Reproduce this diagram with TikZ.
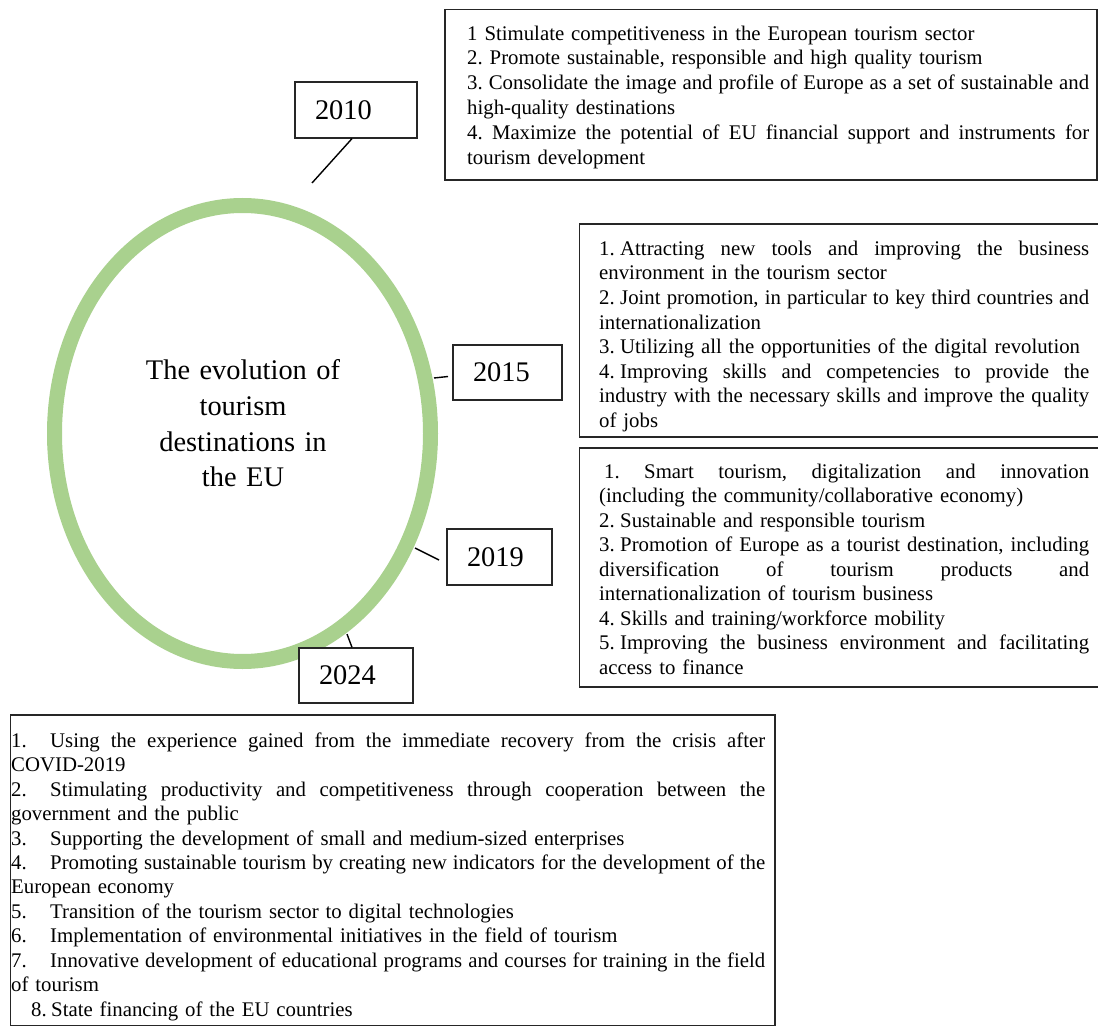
\documentclass[tikz,border=0pt]{standalone}
\usepackage{fontspec}
\setmainfont{Liberation Serif}
\usetikzlibrary{shapes.geometric}
\definecolor{ringgreen}{HTML}{A9D18E}
\newcommand\JL[1]{\hbox to\linewidth{\spaceskip=.25em plus .8em minus .1em #1}}
\newcommand\LL[1]{\hbox{#1}}
\newcommand\FR{\rule{0pt}{18pt}}
\frenchspacing
\begin{document}
\begin{tikzpicture}[x=1pt,y=-1pt,
  listtext/.style={anchor=north west, inner sep=0pt},
  framebox/.style={draw=black!85, line width=1.3pt},
  yearbox/.style={draw=black!85, line width=1.2pt, fill=white, inner xsep=20pt, inner ysep=0pt, align=left, font=\fontsize{28.4}{34}\selectfont},
  conn/.style={draw=black, line width=1.4pt},
  ring/.style={ellipse, draw=ringgreen, line width=15pt, minimum width=376pt, minimum height=456pt, inner sep=0pt}
]
\useasboundingbox (0,0) rectangle (1098,1027);

% ring and title
\node[ring] (ring) at (242.5,433.5) {};
\node[anchor=north, inner sep=0pt, text width=240pt, align=center, font=\fontsize{28.4}{35.9}\selectfont\frenchspacing] (title) at (243,357) {\rule{0pt}{22pt}The evolution of\\ tourism\\ destinations in\\ the EU};

% frames
\draw[framebox] (445,9.5) rectangle (1097,180);
\draw[framebox] (1100,224) -- (579.5,224) -- (579.5,437) -- (1100,437);
\draw[framebox] (1100,448) -- (579.5,448) -- (579.5,687) -- (1100,687);
\draw[framebox] (10.5,715) rectangle (775,1025.5);

% year boxes
\node[yearbox, text width=82pt, minimum height=56pt] (y2010) at (356,110) {2010};
\node[yearbox, text width=69pt, minimum height=55pt] (y2015) at (507.5,372.5) {2015};
\node[yearbox, text width=65pt, minimum height=56pt] (y2019) at (499.5,557) {2019};
\node[yearbox, text width=74pt, minimum height=55pt] (y2024) at (356,675.5) {2024};

% connectors
\coordinate (e2010) at (312,183);
\coordinate (a2015) at (434,378);
\coordinate (b2015) at (448,376.5);
\coordinate (a2019) at (415,548);
\coordinate (b2019) at (439,560);
\coordinate (a2024) at (347,634);
\draw[conn] ([xshift=-4pt]y2010.south) -- (e2010);
\draw[conn] (a2015) -- (b2015);
\draw[conn] (a2019) -- (b2019);
\draw[conn] (a2024) -- ([xshift=-4pt]y2024.north);

% list texts
\node[listtext, text width=622pt, font=\fontsize{20.8}{24.8}\selectfont\frenchspacing] (list2010) at (467,22) {\noindent\vbox{%
\LL{\FR 1 Stimulate competitiveness in the European tourism sector}
\LL{2. Promote sustainable, responsible and high quality tourism}
\JL{3. Consolidate the image and profile of Europe as a set of sustainable and}
\LL{high-quality destinations}
\JL{4. Maximize the potential of EU financial support and instruments for}
\LL{tourism development}}};

\node[listtext, text width=490pt, font=\fontsize{20.8}{24.6}\selectfont\frenchspacing] (list2015) at (599,237) {\noindent\vbox{%
\JL{\FR\makebox[21pt][l]{1.}Attracting new tools and improving the business}
\LL{environment in the tourism sector}
\JL{\makebox[21pt][l]{2.}Joint promotion, in particular to key third countries and}
\LL{internationalization}
\LL{\makebox[21pt][l]{3.}Utilizing all the opportunities of the digital revolution}
\JL{\makebox[21pt][l]{4.}Improving skills and competencies to provide the}
\JL{industry with the necessary skills and improve the quality}
\LL{of jobs}}};

\node[listtext, text width=490pt, font=\fontsize{20.8}{24.5}\selectfont\frenchspacing] (list2019) at (599,460) {\noindent\vbox{%
\JL{\FR\hspace*{5pt}1. Smart tourism, digitalization and innovation}
\LL{(including the community/collaborative economy)}
\LL{\makebox[21pt][l]{2.}Sustainable and responsible tourism}
\JL{\makebox[21pt][l]{3.}Promotion of Europe as a tourist destination, including}
\JL{diversification of tourism products and}
\LL{internationalization of tourism business}
\LL{\makebox[21pt][l]{4.}Skills and training/workforce mobility}
\JL{\makebox[21pt][l]{5.}Improving the business environment and facilitating}
\LL{access to finance}}};

\node[listtext, text width=754pt, font=\fontsize{20.8}{24.45}\selectfont\frenchspacing] (list2024) at (11,729) {\noindent\vbox{%
\JL{\FR\makebox[39pt][l]{1.}Using the experience gained from the immediate recovery from the crisis after}
\LL{COVID-2019}
\JL{\makebox[39pt][l]{2.}Stimulating productivity and competitiveness through cooperation between the}
\LL{government and the public}
\LL{\makebox[39pt][l]{3.}Supporting the development of small and medium-sized enterprises}
\JL{\makebox[39pt][l]{4.}Promoting sustainable tourism by creating new indicators for the development of the}
\LL{European economy}
\LL{\makebox[39pt][l]{5.}Transition of the tourism sector to digital technologies}
\LL{\makebox[39pt][l]{6.}Implementation of environmental initiatives in the field of tourism}
\JL{\makebox[39pt][l]{7.}Innovative development of educational programs and courses for training in the field}
\LL{of tourism}
\LL{\hspace*{20pt}\makebox[20pt][l]{8.}State financing of the EU countries}}};
\end{tikzpicture}
\end{document}
